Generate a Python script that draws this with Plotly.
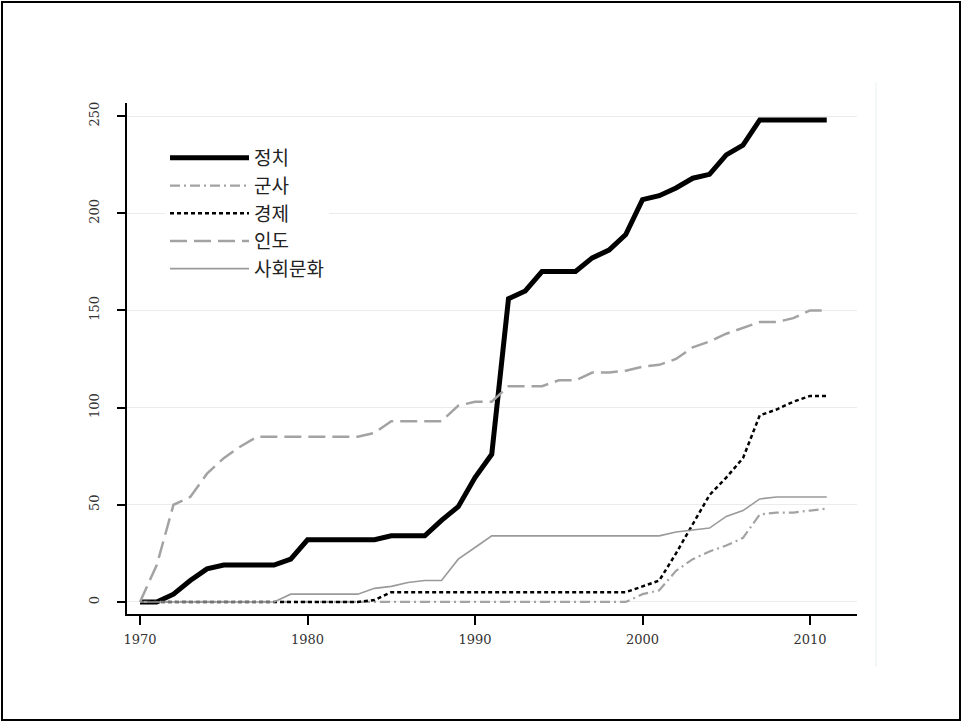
import plotly.graph_objects as go

years = list(range(1970, 2012))

politics = [0, 0, 4, 11, 17, 19, 19, 19, 19, 22, 32, 32, 32, 32, 32, 34, 34, 34, 42, 49,
            64, 76, 156, 160, 170, 170, 170, 177, 181, 189, 207, 209, 213, 218, 220, 230,
            235, 248, 248, 248, 248, 248]
military = [0] * 30 + [4, 6, 16, 22, 26, 29, 33, 45, 46, 46, 47, 48]
economy = [0] * 14 + [1] + [5] * 15 + [8, 11, 25, 40, 55, 64, 74, 96, 99, 103, 106, 106]
humanitarian = [0, 19, 50, 54, 66, 74, 80, 85, 85, 85, 85, 85, 85, 85, 87, 93, 93, 93, 93, 101,
                103, 103, 111, 111, 111, 114, 114, 118, 118, 119, 121, 122, 125, 131, 134, 138,
                141, 144, 144, 146, 150, 150]
sociocultural = [0] * 9 + [4, 4, 4, 4, 4, 7, 8, 10, 11, 11, 22, 28] + [34] * 11 + \
                [36, 37, 38, 44, 47, 53, 54, 54, 54, 54]

names = ["정치", "군사", "경제", "인도", "사회문화"]
y_ticks = [0, 50, 100, 150, 200, 250]
x_ticks = [1970, 1980, 1990, 2000, 2010]

GREY = "#a3a3a3"

fig = go.Figure()
fig.add_trace(go.Scatter(x=years, y=politics, name=names[0], mode="lines",
                         line=dict(color="black", width=5)))
fig.add_trace(go.Scatter(x=years, y=military, name=names[1], mode="lines",
                         line=dict(color=GREY, width=2.2, dash="10px,4px,2px,4px")))
fig.add_trace(go.Scatter(x=years, y=economy, name=names[2], mode="lines",
                         line=dict(color="black", width=2.5, dash="4px,3px")))
fig.add_trace(go.Scatter(x=years, y=humanitarian, name=names[3], mode="lines",
                         line=dict(color=GREY, width=2.5, dash="17px,7px")))
fig.add_trace(go.Scatter(x=years, y=sociocultural, name=names[4], mode="lines",
                         line=dict(color="#9a9a9a", width=1.6)))

L, R, T, B = 127, 857, 103, 614
W, H = 962, 723
pw, ph = R - L, B - T

def px_x(p):
    return (p - L) / pw

def px_y(p):
    return (B - p) / ph

tickfont = dict(family="DejaVu Serif", size=13, color="#333")

fig.update_layout(
    width=W, height=H,
    margin=dict(l=L, r=W - R, t=T, b=H - B, pad=0),
    paper_bgcolor="white", plot_bgcolor="white",
    showlegend=True,
    legend=dict(x=px_x(165), y=px_y(139), xanchor="left", yanchor="top",
                bgcolor="white", borderwidth=0, itemwidth=79,
                font=dict(family="Noto Sans CJK KR", size=19, color="#222")),
    xaxis=dict(range=[1969.224, 2012.806], tickvals=x_ticks,
               ticktext=[str(v) for v in x_ticks],
               showline=True, linecolor="black", linewidth=1.5,
               ticks="outside", ticklen=9, tickwidth=1.5, tickcolor="black",
               showgrid=False, zeroline=False, ticklabelstandoff=4,
               tickfont=tickfont),
    yaxis=dict(range=[-6.2, 256.7], tickvals=y_ticks,
               ticktext=[str(v) for v in y_ticks], tickangle=-90,
               showline=True, linecolor="black", linewidth=1.5,
               ticks="outside", ticklen=8, tickwidth=1.5, tickcolor="black",
               showgrid=True, gridcolor="#ebebeb", gridwidth=1, zeroline=False,
               ticklabelstandoff=13,
               tickfont=tickfont),
    shapes=[
        dict(type="rect", xref="paper", yref="paper",
             x0=px_x(2), x1=px_x(960), y0=px_y(720), y1=px_y(2),
             line=dict(color="black", width=2), layer="above"),
        dict(type="line", xref="paper", yref="paper",
             x0=px_x(876), x1=px_x(876), y0=px_y(667), y1=px_y(82),
             line=dict(color="#e8f0f0", width=1)),
    ],
)

fig.write_html("out.html", config={"displayModeBar": False},
               post_script="document.body.style.margin='0';document.body.style.overflow='hidden';")
